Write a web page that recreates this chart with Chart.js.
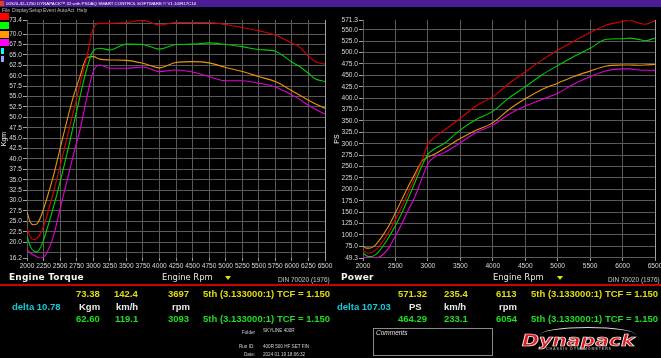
<!DOCTYPE html>
<html><head><meta charset="utf-8">
<script src="https://cdn.jsdelivr.net/npm/chart.js@4.4.0/dist/chart.umd.min.js"></script>
<style>
html,body{margin:0;padding:0;background:#000;width:661px;height:358px;overflow:hidden;position:relative;font-family:"Liberation Sans",Arial,sans-serif;}
canvas{position:absolute;top:0;}
.t{position:absolute;white-space:nowrap;line-height:1;}
.sw{position:absolute;}
</style></head><body>
<div style="position:absolute;left:0;top:0;width:661px;height:7px;background:#4b1c96;"></div>
<div class="sw" style="left:0;top:1px;width:4px;height:5px;background:#e04020;"></div>
<div class="sw" style="left:0;top:13px;width:9px;height:7px;background:#ff0000;"></div>
<div class="sw" style="left:0;top:22px;width:9px;height:7px;background:#00ff00;"></div>
<div class="sw" style="left:0;top:31px;width:9px;height:7px;background:#ff9900;"></div>
<div class="sw" style="left:0;top:39px;width:9px;height:7px;background:#ff00ff;"></div>
<div class="sw" style="left:1px;top:48px;width:3px;height:6px;background:#00ffff;"></div>
<div class="sw" style="left:1px;top:56px;width:3px;height:6px;background:#a0a0ff;"></div>
<div style="position:absolute;left:0;top:284px;width:661px;height:2px;background:#d00000;"></div>
<div style="position:absolute;left:373px;top:328px;width:120px;height:28px;border:1px solid #8a8a8a;box-sizing:border-box;"></div>
<div style="position:absolute;left:540px;top:327px;width:96px;height:16px;border-top:1.5px solid #d8d8d8;border-radius:50%;box-sizing:border-box;"></div>
<canvas id="cT" width="335" height="275" style="left:0"></canvas>
<canvas id="cP" width="331" height="275" style="left:330px"></canvas>
<script>
// ---- data ----
const rpm = [2000,2050,2100,2150,2200,2250,2300,2400,2500,2600,2700,2800,2900,3000,3100,3250,3500,3750,4000,4250,4500,4750,5000,5250,5500,5750,6000,6100,6250,6350,6500];
const torqueRed     = [23.3,21.3,20.6,20.9,22.0,23.8,26.3,32.0,38.3,44.8,51.3,57.8,64.3,71.3,72.6,72.6,72.8,73.3,72.2,72.8,72.8,72.8,72.3,71.6,70.8,69.8,67.8,67.1,64.7,63.4,62.8];
const torqueGreen   = [21.5,19.0,17.9,17.7,18.6,20.5,23.0,28.5,34.5,41.0,48.0,55.0,61.5,66.0,66.6,66.2,67.6,67.5,66.4,67.5,67.6,67.9,67.5,67.0,66.3,65.9,63.3,62.4,60.6,59.3,58.6];
const torqueOrange  = [27.3,24.8,24.2,24.4,25.8,28.0,30.5,36.0,42.5,49.0,55.0,59.8,64.3,64.6,64.0,63.8,63.7,63.0,61.9,63.2,63.4,63.1,62.0,61.0,59.8,58.6,56.4,55.5,54.1,53.3,52.2];
const torqueMagenta = [18.3,17.4,16.9,16.5,16.2,16.4,17.4,21.5,28.0,34.5,41.0,47.0,54.5,61.0,62.6,61.8,61.8,62.1,61.0,61.4,60.9,59.8,58.8,58.8,58.2,57.3,55.4,54.5,52.9,52.0,50.8];
const powerRed      = [65.1,61.0,60.4,62.7,67.6,74.8,84.5,107.2,133.7,162.6,193.4,226.0,260.4,298.7,314.2,329.4,355.8,383.8,403.2,432.0,457.4,482.8,504.8,524.9,543.7,560.4,568.0,571.3,564.6,562.1,570.0];
const powerGreen    = [60.0,54.4,52.5,53.1,57.1,64.4,73.9,95.5,120.4,148.8,181.0,215.0,249.0,276.5,288.3,300.4,330.4,353.4,370.8,400.6,424.7,450.3,471.2,491.1,509.1,529.1,530.3,531.5,528.8,525.8,531.8];
const powerOrange   = [76.2,71.0,71.0,73.2,79.3,88.0,97.9,120.6,148.4,177.9,207.3,233.8,260.4,270.6,277.0,289.5,311.3,329.9,345.7,375.0,398.4,418.5,432.8,447.2,459.2,470.5,472.5,472.7,472.1,472.6,473.8];
const powerMagenta  = [51.1,49.8,49.6,49.3,49.8,51.5,55.9,72.0,97.7,125.2,154.6,183.7,220.7,255.5,271.0,280.4,302.0,325.2,340.7,364.4,382.6,396.6,410.5,431.0,447.0,460.0,464.1,464.2,461.6,461.0,461.0];
const seriesColors  = ['#d80000','#00d000','#e8960a','#e000d8'];
const torqueXTicks = [2000,2250,2500,2750,3000,3250,3500,3750,4000,4250,4500,4750,5000,5250,5500,5750,6000,6250,6500];
const powerXTicks  = [2000,2500,3000,3500,4000,4500,5000,5500,6000,6500];
const torqueYTicks = [16.2,17.5,20,22.5,25,27.5,30,32.5,35,37.5,40,42.5,45,47.5,50,52.5,55,57.5,60,62.5,65,67.5,70,72.5,73.4];
const torqueGridOnly = [17.5,72.5];
const powerYTicks  = [49.3,50,75,100,125,150,175,200,225,250,275,300,325,350,375,400,425,450,475,500,525,550,571.3];
const powerGridOnly = [50];

function pts(vals){ return vals.map((v,i)=>({x:rpm[i], y:v})); }

function makeChart(id, series, xTicks, yTicks, gridOnly, yMin, yMax, yTitle, yWidth, rightPad, titlePad){
  const ds = series.map((s,i)=>({data:pts(s), borderColor:seriesColors[i], borderWidth:1.1, pointRadius:0, fill:false, cubicInterpolationMode:'monotone'}));
  return new Chart(document.getElementById(id), {
    type:'line',
    data:{datasets:ds},
    options:{
      responsive:false, animation:false, events:[],
      layout:{padding:{top:20,right:rightPad,left:0,bottom:0}},
      plugins:{legend:{display:false}, tooltip:{enabled:false}},
      scales:{
        x:{type:'linear', min:2000, max:6500,
          afterBuildTicks:s=>{ s.ticks = xTicks.map(v=>({value:v})); },
          afterFit:s=>{ s.height = 17; s.paddingLeft = 0; s.paddingRight = 0; },
          ticks:{color:'#d8d8d8', font:{family:'Liberation Sans', size:6.6}, maxRotation:0, autoSkip:false, padding:1, callback:v=>String(v)},
          grid:{color:c=> (c.tick && c.tick.value===6500) ? '#a0a0a0' : '#5a5a5a', tickLength:3, tickColor:'#9a9a9a'},
          border:{display:false}
        },
        y:{type:'linear', min:yMin, max:yMax,
          afterBuildTicks:s=>{ s.ticks = yTicks.map(v=>({value:v})); },
          afterFit:s=>{ s.width = yWidth; s.paddingTop = 0; s.paddingBottom = 0; },
          ticks:{color:'#d8d8d8', font:{family:'Liberation Sans', size:6.6}, autoSkip:false, padding:1,
            callback:v=> gridOnly.includes(v) ? '' : v.toFixed(1)},
          grid:{color:c=> (c.tick && (c.tick.value===yMin||c.tick.value===yMax)) ? 'rgba(0,0,0,0)' : '#5a5a5a', tickLength:4,
            tickColor:c=> (c.tick && gridOnly.includes(c.tick.value)) ? 'rgba(0,0,0,0)' : '#a0a0a0'},
          border:{display:false},
          title:{display:true, text:yTitle, color:'#f0f0f0', font:{family:'Liberation Sans', size:7}, padding:{top:titlePad,bottom:0}}
        }
      }
    }
  });
}

makeChart('cT', [torqueRed,torqueGreen,torqueOrange,torqueMagenta], torqueXTicks, torqueYTicks, torqueGridOnly, 16.2, 73.4, 'Kgm', 27, 10, 0);
makeChart('cP', [powerRed,powerGreen,powerOrange,powerMagenta], powerXTicks, powerYTicks, powerGridOnly, 49.3, 571.3, 'PS', 33, 6, 3);

// ---- text ----
function put(s, x, yc, css, anchor){
  const d = document.createElement('div'); d.className='t'; d.textContent = s;
  d.style.cssText += css; document.body.appendChild(d);
  const h = d.offsetHeight, w = d.offsetWidth;
  d.style.top = (yc - h/2) + 'px';
  d.style.left = (anchor==='r' ? x - w : anchor==='c' ? x - w/2 : x) + 'px';
  return d;
}
put('00520-32-1250 DYNAPACK\u2122 32 with PSDAQ SMART CONTROL SOFTWARE \u00a9 V1.10/R17C10', 6, 3.6, 'font-size:4.4px;color:#fff;');
const menu = [['File',2],['Display',12],['Setup',29],['Event',43],['AutoAct',57],['Help',77]];
menu.forEach(m=>put(m[0], m[1], 10.8, 'font-size:5px;color:#bbb;'));

const hdr = 'font-family:"DejaVu Sans";font-weight:bold;font-size:9px;color:#f4f4f4;letter-spacing:0.2px;';
put('Engine Torque', 9, 277, hdr);
put('Power', 341, 277, hdr);
const er = 'font-family:"DejaVu Sans";font-size:8.4px;color:#e8e8e8;';
put('Engine Rpm', 162, 277, er);
put('Engine Rpm', 493, 277, er);
const din = 'font-size:6.5px;color:#c8c8c8;';
put('DIN 70020 (1976)', 330, 280, din, 'r');
put('DIN 70020 (1976)', 660, 280, din, 'r');
[228.5, 560.5].forEach(x=>{
  const d=document.createElement('div');
  d.style.cssText='position:absolute;left:'+(x-3.5)+'px;top:275.5px;width:0;height:0;border-left:3.5px solid transparent;border-right:3.5px solid transparent;border-top:4px solid #e8e000;';
  document.body.appendChild(d);
});

const Y='#e0dc10', G='#20dc20', C='#18c8d8', W='#e8e8e8';
const f = c => 'font-weight:bold;font-size:9.5px;color:'+c+';';
const r1=294, r2=306.5, r3=319;
const tcf = '5th (3.133000:1) TCF = 1.150';
// left readout
put('73.38',100,r1,f(Y),'r'); put('142.4',138,r1,f(Y),'r'); put('3697',189,r1,f(Y),'r'); put(tcf,203,r1,f(Y));
put('delta 10.78',12,r2,f(C)); put('Kgm',100,r2,f(W),'r'); put('km/h',138,r2,f(W),'r'); put('rpm',190,r2,f(W),'r');
put('62.60',100,r3,f(G),'r'); put('119.1',138,r3,f(G),'r'); put('3093',189,r3,f(G),'r'); put(tcf,203,r3,f(G));
// right readout
put('571.32',427,r1,f(Y),'r'); put('235.4',468,r1,f(Y),'r'); put('6113',517,r1,f(Y),'r'); put(tcf,531,r1,f(Y));
put('delta 107.03',337,r2,f(C)); put('PS',422,r2,f(W),'r'); put('km/h',466,r2,f(W),'r'); put('rpm',517,r2,f(W),'r');
put('464.29',427,r3,f(G),'r'); put('233.1',468,r3,f(G),'r'); put('6054',517,r3,f(G),'r'); put(tcf,531,r3,f(G));

const sm='font-size:4.6px;color:#d0d0d0;';
put('Folder',255,333,sm,'r'); put('SKYLINE 400R',263,331,sm);
put('Run ID:',255,347,sm,'r'); put('400R 500 HF SET FIN',263,347,sm);
put('Date:',255,355,sm,'r'); put('2024 01 19 18:06:32',263,355,sm);
put('Comments',376,333,'font-size:6.5px;font-style:italic;color:#e0e0e0;');
const logo = put('Dynapack', 578, 341, 'font-family:"DejaVu Sans";font-weight:bold;font-style:italic;font-size:15px;color:#e01818;-webkit-text-stroke:0.7px #f0f0f0;', 'c');
logo.style.transform='scaleX(1.36)';
const sub = put('CHASSIS  DYNAMOMETERS', 579, 349.5, 'font-size:3.6px;font-weight:bold;color:#9a9a9a;letter-spacing:0.9px;', 'c');
</script>
</body></html>
